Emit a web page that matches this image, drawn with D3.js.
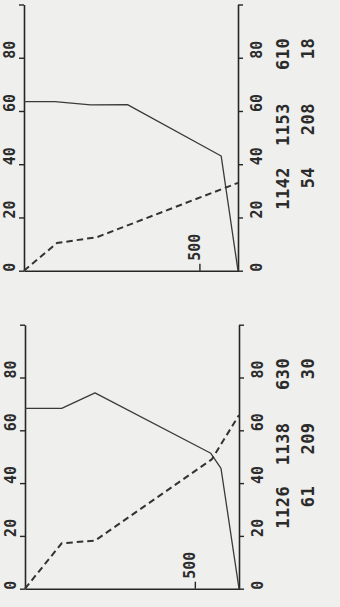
<!DOCTYPE html>
<html>
<head>
<meta charset="utf-8">
<script src="https://cdn.jsdelivr.net/npm/d3@7"></script>
<style>
  html, body { margin: 0; padding: 0; background: #efefed; }
  svg { display: block; }
  text { font-family: "DejaVu Sans Mono", "Liberation Mono", monospace; fill: #2b2b2b; }
</style>
</head>
<body>
<svg id="chart" width="340" height="607"></svg>
<script>
// ---------- data ----------
const yTicks = [0, 20, 40, 60, 80, 100];
const yTickLabels = ["0", "20", "40", "60", "80", ""];
const xTicks = [500];
const xTickLabels = ["500"];

const topXMax = 610;
const topSolidX = [0, 88, 190, 295, 562, 610];
const topSolidY = [63.5, 63.5, 62.3, 62.4, 43.1, 0];
const topDashX = [0, 94, 208, 610];
const topDashY = [0, 10.4, 12.6, 33];
const topNumsA = ["1142", "1153", "610"];
const topNumsB = ["54", "208", "18"];

const botXMax = 630;
const botSolidX = [0, 108, 206, 547, 577, 630];
const botSolidY = [68.3, 68.3, 74.2, 51.3, 45.6, 0];
const botDashX = [0, 108, 206, 550, 630];
const botDashY = [0, 17.2, 18.2, 49, 65.8];
const botNumsA = ["1126", "1138", "630"];
const botNumsB = ["61", "209", "30"];

// ---------- layout ----------
const panels = [
  { left: 24, right: 238, top: 4.5, bottom: 270.7, xMax: topXMax,
    solidX: topSolidX, solidY: topSolidY, dashX: topDashX, dashY: topDashY,
    numsA: topNumsA, numsB: topNumsB },
  { left: 25, right: 239, top: 324.7, bottom: 588.7, xMax: botXMax,
    solidX: botSolidX, solidY: botSolidY, dashX: botDashX, dashY: botDashY,
    numsA: botNumsA, numsB: botNumsB }
];
const numPosY = [39, 63, 87.5];   // positions (in y units) where number text ends
const numColA = 289, numColB = 314; // baselines (screen x) of the two number columns

const svg = d3.select("#chart");
const axisColor = "#262626";

panels.forEach(p => {
  const x = d3.scaleLinear().domain([0, p.xMax]).range([p.left, p.right]);
  const y = d3.scaleLinear().domain([0, 100]).range([p.bottom, p.top]);
  const g = svg.append("g");

  const la = g.append("g").attr("transform", `translate(${p.left},0)`)
    .call(d3.axisLeft(y).tickValues(yTicks).tickSize(5).tickSizeOuter(0)
      .tickFormat((d, i) => yTickLabels[i]));
  const ra = g.append("g").attr("transform", `translate(${p.right},0)`)
    .call(d3.axisRight(y).tickValues(yTicks).tickSize(5).tickSizeOuter(0)
      .tickFormat((d, i) => yTickLabels[i]));
  const ba = g.append("g").attr("transform", `translate(0,${p.bottom})`)
    .call(d3.axisBottom(x).tickValues(xTicks).tickSize(-7).tickSizeOuter(0)
      .tickFormat((d, i) => xTickLabels[i]));

  [la, ra, ba].forEach(a => {
    a.attr("font-family", null).attr("font-size", null);
    a.select(".domain").attr("stroke", axisColor).attr("stroke-width", 1.6);
    a.selectAll(".tick line").attr("stroke", axisColor).attr("stroke-width", 1.4);
    a.selectAll("text").attr("fill", "#2b2b2b")
      .style("font-size", "15px").style("font-weight", "bold");
  });

  la.selectAll(".tick text")
    .attr("x", null).attr("dy", null).attr("y", null)
    .attr("text-anchor", "start")
    .attr("transform", "translate(-9,0.5) rotate(-90)");
  ra.selectAll(".tick text")
    .attr("x", null).attr("dy", null).attr("y", null)
    .attr("text-anchor", "start")
    .attr("transform", "translate(24,0.5) rotate(-90)");
  ba.selectAll(".tick text")
    .attr("x", null).attr("dy", null).attr("y", null)
    .attr("text-anchor", "start")
    .attr("transform", "translate(0,-10) rotate(-90)");

  const line = d3.line().x(d => x(d[0])).y(d => y(d[1]));
  g.append("path")
    .datum(p.solidX.map((v, i) => [v, p.solidY[i]]))
    .attr("d", line).attr("fill", "none")
    .attr("stroke", "#3a3a3a").attr("stroke-width", 1.3)
    .attr("stroke-linejoin", "round");
  g.append("path")
    .datum(p.dashX.map((v, i) => [v, p.dashY[i]]))
    .attr("d", line).attr("fill", "none")
    .attr("stroke", "#333").attr("stroke-width", 2)
    .attr("stroke-dasharray", "6.5,4");

  [[p.numsA, numColA], [p.numsB, numColB]].forEach(([arr, cx]) => {
    g.selectAll(null).data(arr).enter().append("text")
      .attr("transform", (d, i) => `translate(${cx},${y(numPosY[i])}) rotate(-90)`)
      .attr("text-anchor", "end")
      .style("font-size", "17px")
      .style("font-weight", "bold")
      .attr("letter-spacing", 0.5)
      .text(d => d);
  });
});
</script>
</body>
</html>
